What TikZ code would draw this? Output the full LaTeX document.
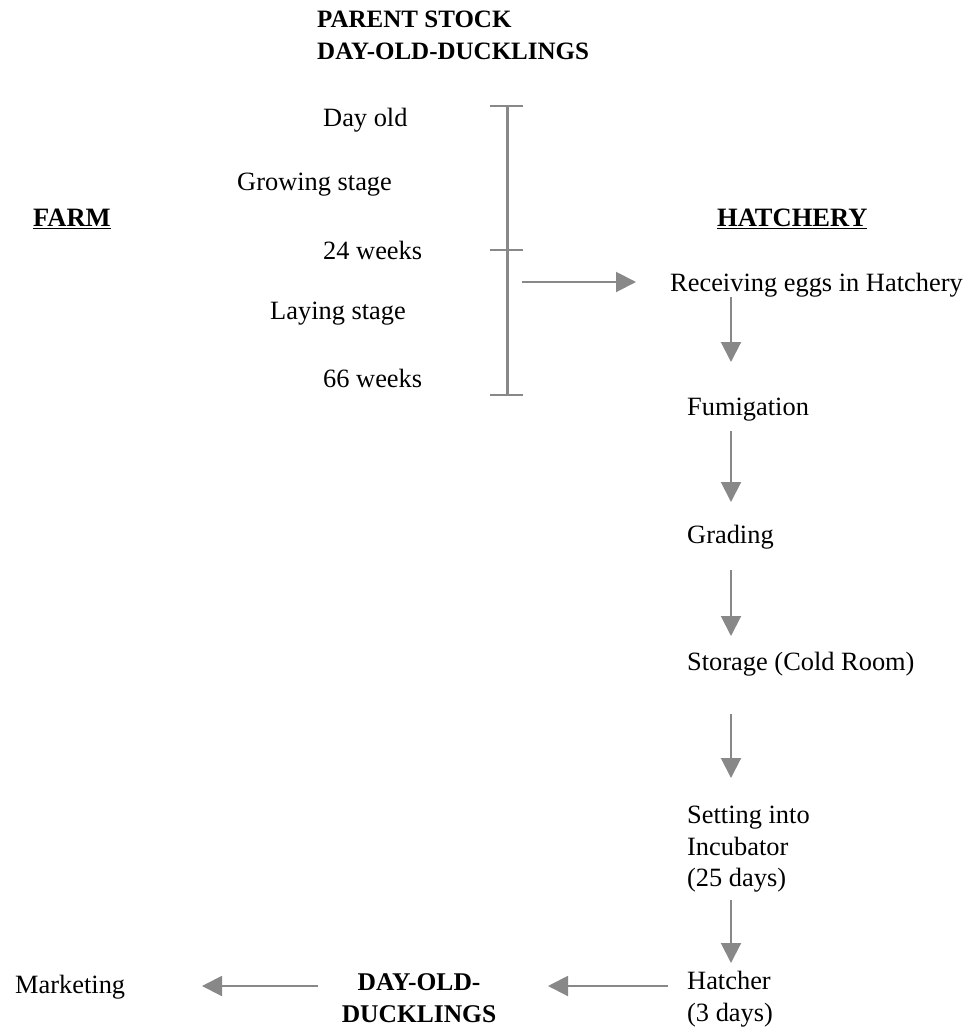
\documentclass[tikz,border=0pt]{standalone}
\usepackage{fontspec}
\setmainfont{Liberation Serif}
\usetikzlibrary{arrows.meta}
\definecolor{linegray}{HTML}{888888}
\tikzset{
  txt/.style={inner sep=0pt, anchor=west, font=\fontsize{26.4}{31.5}\selectfont},
  btxt/.style={inner sep=0pt, anchor=west, font=\fontsize{26.5}{32}\selectfont\bfseries},
  ttxt/.style={inner sep=0pt, anchor=west, font=\fontsize{25}{32}\selectfont\bfseries},
  arr/.style={draw=linegray, line width=2pt, -{Triangle[length=20pt,width=20pt]}},
  barline/.style={draw=linegray, line width=3pt},
  tick/.style={draw=linegray, line width=2pt}
}
\begin{document}
\begin{tikzpicture}[x=1pt,y=-1pt]
\useasboundingbox (0,0) rectangle (973,1031);
% titles
\node[ttxt] (ps) at (317,19) {PARENT STOCK};
\node[ttxt] (dod) at (317,51) {DAY-OLD-DUCKLINGS};
\node[btxt] (farm) at (33,219) {\underline{FARM}};
\node[btxt] (hat) at (717,219) {\underline{HATCHERY}};
% farm stages
\node[txt] (d0) at (323,120) {Day old};
\node[txt] (gs) at (237,185) {Growing stage};
\node[txt] (w24) at (323,250) {24 weeks};
\node[txt] (ls) at (270,314) {Laying stage};
\node[txt] (w66) at (323,378) {66 weeks};
% bar
\coordinate (bt) at (507,106);
\coordinate (bm) at (507,250);
\coordinate (bb) at (507,395);
\draw[barline] (bt) -- (bb);
\draw[tick] ([xshift=-17pt]bt) -- ([xshift=16pt]bt);
\draw[tick] ([xshift=-17pt]bm) -- ([xshift=16pt]bm);
\draw[tick] ([xshift=-17pt]bb) -- ([xshift=16pt]bb);
\coordinate (as) at (522,282);
\coordinate (ae) at (636,282);
% hatchery chain
\node[txt] (rec) at (670,285) {Receiving eggs in Hatchery};
\node[txt] (fum) at (687,410) {Fumigation};
\node[txt] (gra) at (687,537) {Grading};
\node[txt] (sto) at (687,664) {Storage (Cold Room)};
\node[txt, anchor=north west, align=left] (set) at (687,806) {Setting into\\Incubator\\(25 days)};
\node[txt, anchor=north west, align=left] (hatc) at (687,971) {Hatcher\\(3 days)};
\node[btxt, font=\fontsize{25.5}{32}\selectfont\bfseries, anchor=north, align=center] (ddk) at (419,973) {DAY-OLD-\\DUCKLINGS};
\node[txt] (mkt) at (15,987) {Marketing};
% arrows
\draw[arr] (as) -- (ae);
\draw[arr] (731,297) -- (731,362);
\draw[arr] (731,431) -- (731,502);
\draw[arr] (731,570) -- (731,636);
\draw[arr] (731,714) -- (731,778);
\draw[arr] (731,900) -- (731,963);
\draw[arr] (668,986) -- (548,986);
\draw[arr] (318,986) -- (202,986);
\end{tikzpicture}
\end{document}
